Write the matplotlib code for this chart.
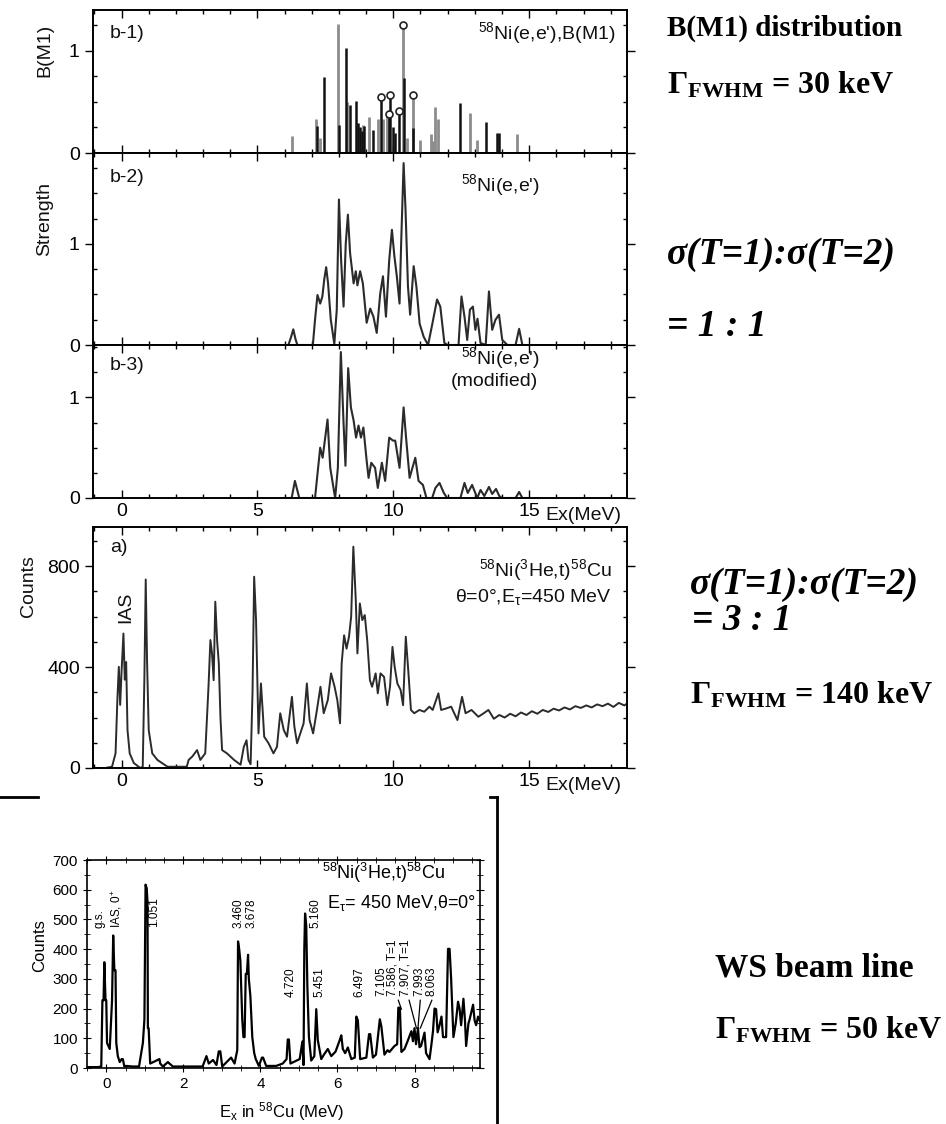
import matplotlib
matplotlib.use("Agg")
import matplotlib.pyplot as plt
from matplotlib.lines import Line2D
from matplotlib.ticker import MultipleLocator, FixedLocator

plt.rcParams['font.family'] = ['Liberation Sans', 'DejaVu Sans']
plt.rcParams['mathtext.default'] = 'regular'

W, H = 946, 1124

# ---- b-1) B(M1) sticks (Ex in MeV, B(M1)) ----
b1_black_x = [7.20, 7.45, 8.02, 8.25, 8.40, 8.62, 8.70, 8.78, 8.85, 8.93, 9.25, 9.54, 9.86,
              9.89, 10.00, 10.08, 10.20, 10.38, 10.72, 12.47, 13.42, 13.80, 13.90]
b1_black_y = [0.26, 0.74, 0.27, 1.03, 0.47, 0.51, 0.29, 0.25, 0.22, 0.26, 0.23, 0.55, 0.38,
              0.57, 0.25, 0.20, 0.41, 0.73, 0.24, 0.49, 0.30, 0.20, 0.20]
b1_gray_x = [6.28, 7.16, 7.30, 7.95, 8.31, 8.88, 9.09, 9.42, 9.62, 9.77, 10.34, 10.50, 10.71,
             11.00, 11.37, 11.45, 11.55, 11.65, 12.83, 13.09, 14.56]
b1_gray_y = [0.17, 0.33, 0.15, 1.26, 0.50, 0.27, 0.35, 0.33, 0.33, 0.40, 1.25, 0.15, 0.57,
             0.13, 0.19, 0.12, 0.45, 0.33, 0.39, 0.13, 0.19]
b1_circle_x = [9.54, 9.86, 9.89, 10.20, 10.34, 10.71]
b1_circle_y = [0.55, 0.38, 0.57, 0.41, 1.25, 0.57]

# ---- b-2) folded strength ----
b2_x = [6.0, 6.14, 6.24, 6.32, 6.40, 6.47, 7.04, 7.12, 7.21, 7.31, 7.39, 7.46, 7.53, 7.60, 7.70,
        7.83, 7.92, 8.00, 8.08, 8.17, 8.25, 8.33, 8.41, 8.54, 8.62, 8.68, 8.78, 8.88, 9.02, 9.15,
        9.27, 9.39, 9.52, 9.62, 9.73, 9.85, 9.95, 10.04, 10.13, 10.23, 10.29, 10.38, 10.45, 10.54,
        10.62, 10.75, 10.85, 10.97, 11.12, 11.28, 11.43, 11.61, 11.73, 11.88, 12.0, 12.40, 12.51,
        12.62, 12.72, 12.82, 12.93, 13.02, 13.10, 13.21, 13.40, 13.52, 13.64, 13.76, 13.89, 14.01,
        14.2, 14.5, 14.63, 14.75, 15.0]
b2_y = [0, 0, 0.08, 0.155, 0.06, 0, 0, 0.25, 0.495, 0.41, 0.48, 0.65, 0.77, 0.61, 0.25,
        0.01, 0.35, 1.44, 0.84, 0.38, 1.0, 1.29, 0.91, 0.61, 0.73, 0.59, 0.73, 0.61, 0.22, 0.36,
        0.28, 0.12, 0.51, 0.68, 0.28, 0.84, 1.14, 0.88, 0.68, 0.41, 1.01, 1.80, 1.34, 0.58,
        0.30, 0.78, 0.58, 0.21, 0.08, 0, 0.2, 0.45, 0.38, 0.02, 0, 0, 0.48,
        0.28, 0.05, 0.35, 0.38, 0.15, 0.26, 0.02, 0, 0.53, 0.15, 0.25, 0.30, 0.05,
        0, 0, 0.16, 0, 0]

# ---- b-3) modified strength ----
b3_x = [6.0, 6.26, 6.38, 6.54, 7.12, 7.31, 7.40, 7.58, 7.68, 7.86, 7.96, 8.07, 8.17, 8.24, 8.34,
        8.44, 8.54, 8.63, 8.72, 8.81, 8.90, 9.02, 9.09, 9.19, 9.33, 9.43, 9.58, 9.70, 9.85, 9.99,
        10.07, 10.23, 10.38, 10.47, 10.60, 10.81, 10.93, 11.09, 11.22, 11.43, 11.55, 11.70, 11.86,
        11.98, 12.47, 12.62, 12.74, 12.90, 13.09, 13.21, 13.35, 13.52, 13.64, 13.78, 13.90, 14.0,
        14.5, 14.63, 14.75, 15.0]
b3_y = [0, 0, 0.17, 0, 0, 0.50, 0.40, 0.78, 0.30, 0, 0.30, 1.45, 0.74, 0.32, 1.29,
        0.90, 0.77, 0.60, 0.72, 0.60, 0.70, 0.37, 0.20, 0.35, 0.30, 0.10, 0.35, 0.17, 0.60, 0.57,
        0.57, 0.30, 0.90, 0.60, 0.20, 0.40, 0.17, 0.13, 0, 0, 0.10, 0.15, 0.05,
        0, 0, 0.15, 0.05, 0.13, 0, 0.08, 0.02, 0.11, 0.04, 0.09, 0.02, 0,
        0, 0.06, 0, 0]

# ---- a) 58Ni(3He,t) counts, 140 keV resolution ----
a_x = [-1.05, -0.6, -0.35, -0.22, -0.15, -0.10, -0.05, 0.0, 0.07, 0.12, 0.17, 0.22, 0.30, 0.45,
       0.69, 0.78, 0.84, 0.89, 0.94, 1.0, 1.13, 1.32, 1.69, 2.4, 2.47, 2.6, 2.78, 2.9, 3.08, 3.2,
       3.27, 3.33, 3.39, 3.45, 3.52, 3.58, 3.64, 3.7, 3.88, 4.14, 4.38, 4.5, 4.6, 4.67, 4.75,
       4.82, 4.88, 4.95, 5.04, 5.13, 5.2, 5.25, 5.41, 5.59, 5.72, 5.84, 5.97, 6.09, 6.27, 6.36,
       6.46, 6.58, 6.7, 6.82, 6.92, 7.05, 7.19, 7.32, 7.44, 7.59, 7.71, 7.84, 7.94, 8.04, 8.1,
       8.19, 8.28, 8.37, 8.45, 8.53, 8.62, 8.68, 8.77, 8.86, 8.95, 9.04, 9.14, 9.22, 9.35, 9.43,
       9.53, 9.66, 9.78, 9.88, 9.97, 10.05, 10.15, 10.27, 10.36, 10.46, 10.55, 10.65, 10.77,
       10.96, 11.14, 11.33, 11.45, 11.66, 11.76, 11.95, 12.13, 12.36, 12.53, 12.66, 12.88, 13.13,
       13.3, 13.5, 13.7, 13.9, 14.1, 14.3, 14.5, 14.7, 14.9, 15.1, 15.3, 15.5, 15.7, 15.9, 16.1,
       16.3, 16.5, 16.7, 16.9, 17.1, 17.3, 17.5, 17.7, 17.9, 18.1, 18.3, 18.5, 18.6]
a_y = [0, 0, 5, 58, 280, 401, 250, 380, 533, 350, 420, 150, 58, 20,
       0, 5, 350, 747, 420, 150, 58, 32, 5, 5, 32, 45, 71, 32, 58, 322,
       507, 454, 348, 659, 500, 414, 200, 71, 58, 32, 13, 84, 110, 32, 15,
       300, 758, 586, 137, 335, 217, 124, 98, 58, 84, 217, 150, 124, 282, 164,
       98, 137, 177, 335, 190, 137, 230, 322, 217, 269, 375, 322, 269, 177, 414,
       526, 473, 520, 600, 877, 665, 454, 652, 586, 606, 507, 348, 322, 375, 296,
       375, 361, 249, 322, 480, 401, 335, 309, 249, 520, 388, 230, 217,
       230, 223, 243, 230, 296, 230, 236, 243, 190, 282, 217, 230, 203,
       215, 230, 195, 210, 200, 215, 205, 220, 210, 225, 215, 230, 222, 235, 228,
       240, 232, 245, 238, 248, 240, 252, 245, 255, 242, 258, 248, 255]

# ---- WS beam line spectrum, 50 keV resolution ----
ws_x = [-0.50, -0.22, -0.13, -0.10, -0.07, -0.05, -0.02, 0.0, 0.02, 0.09, 0.15, 0.18, 0.21, 0.24,
        0.26, 0.30, 0.35, 0.40, 0.43, 0.47, 0.52, 0.69, 0.85, 0.95, 0.99, 1.02, 1.05, 1.07, 1.08,
        1.10, 1.14, 1.38, 1.40, 1.47, 1.60, 1.64, 1.73, 2.08, 2.5, 2.60, 2.66, 2.77, 2.86, 2.92,
        2.96, 3.01, 3.24, 3.33, 3.40, 3.42, 3.45, 3.48, 3.53, 3.56, 3.59, 3.62, 3.65, 3.68, 3.70,
        3.74, 3.79, 3.84, 3.88, 3.96, 4.04, 4.07, 4.15, 4.41, 4.58, 4.68, 4.71, 4.74, 4.78, 5.02,
        5.09, 5.12, 5.14, 5.16, 5.19, 5.22, 5.26, 5.32, 5.40, 5.45, 5.49, 5.58, 5.65, 5.75, 5.84,
        5.95, 6.06, 6.10, 6.14, 6.20, 6.27, 6.36, 6.45, 6.49, 6.53, 6.59, 6.75, 6.82, 6.85, 6.92,
        7.00, 7.10, 7.14, 7.22, 7.30, 7.35, 7.48, 7.55, 7.58, 7.62, 7.66, 7.74, 7.82, 7.92, 7.96,
        8.00, 8.04, 8.09, 8.13, 8.17, 8.26, 8.30, 8.39, 8.44, 8.48, 8.52, 8.56, 8.60, 8.65, 8.70,
        8.74, 8.82, 8.87, 8.91, 8.95, 9.01, 9.07, 9.13, 9.17, 9.21, 9.27, 9.31, 9.34, 9.40, 9.43,
        9.52, 9.56, 9.60, 9.65, 9.69]
ws_y = [3, 3, 5, 228, 228, 356, 228, 228, 84, 64, 228, 446, 329, 329,
        84, 40, 20, 30, 30, 5, 7, 5, 5, 84, 163, 617, 605, 559, 134,
        134, 15, 30, 15, 5, 20, 15, 5, 5, 5, 40, 15, 27, 10, 56,
        56, 5, 35, 15, 60, 426, 400, 361, 163, 104, 104, 317, 317, 381, 300,
        243, 104, 50, 30, 7, 35, 35, 7, 7, 15, 30, 96, 96, 15, 30,
        89, 10, 400, 520, 480, 272, 104, 25, 40, 198, 94, 30, 45, 64, 40,
        55, 94, 110, 64, 50, 69, 30, 35, 173, 160, 30, 35, 114, 114, 35,
        45, 164, 140, 45, 60, 54, 74, 80, 203, 203, 54, 64, 90, 124, 90,
        134, 80, 134, 70, 74, 119, 50, 30, 80, 124, 200, 198, 120, 144, 173,
        104, 104, 401, 401, 302, 104, 150, 223, 200, 144, 233, 160, 74, 150, 163,
        213, 160, 144, 173, 160]

# peak labels: text, x position, bottom of label (counts)
ws_labels = ['g.s.', 'IAS, 0$^{+}$', '1.051', '3.460', '3.678', '4.720', '5.160', '5.451',
             '6.497', '7.105', '7.586, T=1', '7.907, T=1', '7.993', '8.063']
ws_label_x = [-0.17, 0.28, 1.25, 3.44, 3.78, 4.78, 5.43, 5.54, 6.57, 7.14, 7.44, 7.76, 8.13, 8.45]
ws_label_y = [470, 470, 475, 470, 470, 238, 470, 238, 238, 243, 243, 243, 243, 243]
# leader lines: label end -> peak
lead_from = [(7.58, 228), (7.86, 228), (8.15, 228), (8.45, 228)]
lead_to = [(7.66, 198), (8.05, 134), (8.09, 134), (8.15, 134)]


def box(x0, y0, x1, y1):
    return [x0 / W, 1 - y1 / H, (x1 - x0) / W, (y1 - y0) / H]


def fx(px):
    return px / W


def fy(py):
    return 1 - py / H


fig = plt.figure(figsize=(W / 100, H / 100), dpi=100)

LINE = '#2b2b2b'
top_axes = []
for rect, ymax in [((93, 10, 627, 153), 1.40), ((93, 153, 627, 345), 1.90),
                   ((93, 345, 627, 498), 1.52), ((93, 527, 627, 768), 955)]:
    ax = fig.add_axes(box(*rect))
    ax.set_xlim(-1.05, 18.6)
    ax.set_ylim(0, ymax)
    for s in ax.spines.values():
        s.set_linewidth(1.4)
    ax.xaxis.set_major_locator(FixedLocator([0, 5, 10, 15]))
    ax.xaxis.set_minor_locator(MultipleLocator(1))
    ax.tick_params(axis='both', which='both', direction='in', top=True, right=True,
                   labelsize=14, width=1.0)
    ax.tick_params(axis='both', which='major', length=6)
    ax.tick_params(axis='both', which='minor', length=3)
    ax.tick_params(axis='y', which='major', direction='out', left=True)
    top_axes.append(ax)

ax1, ax2, ax3, ax4 = top_axes
for ax in (ax1, ax2, ax3):
    ax.yaxis.set_major_locator(FixedLocator([0, 1]))
    ax.yaxis.set_minor_locator(MultipleLocator(0.25))
ax4.yaxis.set_major_locator(FixedLocator([0, 400, 800]))
ax4.yaxis.set_minor_locator(MultipleLocator(100))
ax1.tick_params(labelbottom=False)
ax2.tick_params(labelbottom=False)
ax3.set_xticklabels(['0', '5', '10', '15'])
ax4.set_xticklabels(['0', '5', '10', '15'])

ax1.vlines(b1_gray_x, 0, b1_gray_y, color='#8c8c8c', lw=2.0)
ax1.vlines(b1_black_x, 0, b1_black_y, color='#111111', lw=1.8)
ax1.plot(b1_circle_x, b1_circle_y, 'o', mfc='white', mec='#222222', ms=5, mew=1.2)

ax2.plot(b2_x, b2_y, color=LINE, lw=1.5)
ax3.plot(b3_x, b3_y, color=LINE, lw=1.5)
ax4.plot(a_x, a_y, color=LINE, lw=1.4)

TXT = dict(fontsize=14, color='#111111', va='center')
fig.text(fx(110), fy(33), 'b-1)', **TXT)
fig.text(fx(615), fy(33), "$^{58}$Ni(e,e'),B(M1)", ha='right', **TXT)
fig.text(fx(110), fy(178), 'b-2)', **TXT)
fig.text(fx(540), fy(185), "$^{58}$Ni(e,e')", ha='right', **TXT)
fig.text(fx(110), fy(366), 'b-3)', **TXT)
fig.text(fx(540), fy(358), "$^{58}$Ni(e,e')", ha='right', **TXT)
fig.text(fx(538), fy(382), '(modified)', ha='right', **TXT)
fig.text(fx(110), fy(547), 'a)', **TXT)
fig.text(fx(612), fy(570), '$^{58}$Ni($^{3}$He,t)$^{58}$Cu', ha='right', **TXT)
fig.text(fx(612), fy(597), 'θ=0°,E$_{τ}$=450 MeV', ha='right', **TXT)
fig.text(fx(126), fy(607), 'IAS', rotation=90, ha='center', **TXT)
fig.text(fx(583), fy(516), 'Ex(MeV)', ha='center', **TXT)
fig.text(fx(583), fy(785), 'Ex(MeV)', ha='center', **TXT)
fig.text(fx(45), fy(50), 'B(M1)', rotation=90, ha='center', **TXT)
fig.text(fx(45), fy(219), 'Strength', rotation=90, ha='center', **TXT)
fig.text(fx(28), fy(586), 'Counts', rotation=90, ha='center', **TXT)

# ---- bottom panel ----
ax5 = fig.add_axes(box(87, 860, 480, 1068))
ax5.set_xlim(-0.5, 9.7)
ax5.set_ylim(0, 700)
for s in ax5.spines.values():
    s.set_linewidth(1.2)
ax5.xaxis.set_major_locator(FixedLocator([0, 2, 4, 6, 8]))
ax5.xaxis.set_minor_locator(MultipleLocator(0.5))
ax5.yaxis.set_major_locator(MultipleLocator(100))
ax5.yaxis.set_minor_locator(MultipleLocator(50))
ax5.tick_params(axis='both', which='both', direction='inout', top=True, right=True, labelsize=11)
ax5.tick_params(axis='both', which='major', length=6)
ax5.tick_params(axis='both', which='minor', length=4)
ax5.plot(ws_x, ws_y, color='black', lw=1.6)

for t, x, y in zip(ws_labels, ws_label_x, ws_label_y):
    ax5.text(x, y, t, rotation=90, ha='center', va='bottom', fontsize=8.5)
for (x0, y0), (x1, y1) in zip(lead_from, lead_to):
    ax5.plot([x0, x1], [y0, y1], color='black', lw=0.9)

fig.text(fx(445), fy(873), '$^{58}$Ni($^{3}$He,t)$^{58}$Cu', ha='right', va='center', fontsize=13)
fig.text(fx(476), fy(903), 'E$_{τ}$= 450 MeV,θ=0°', ha='right', va='center', fontsize=13)
fig.text(fx(40), fy(946), 'Counts', rotation=90, ha='center', va='center', fontsize=12)
fig.text(fx(282), fy(1112), 'E$_{x}$ in $^{58}$Cu (MeV)', ha='center', va='center', fontsize=12)

# bracket lines around the bottom panel
fig.add_artist(Line2D([0, fx(38)], [fy(797), fy(797)], color='black', lw=2))
fig.add_artist(Line2D([fx(490), fx(497)], [fy(797), fy(797)], color='black', lw=2))
fig.add_artist(Line2D([fx(497), fx(497)], [fy(797), 0], color='black', lw=2))

# ---- right-hand annotations ----
SERIF = dict(family='Liberation Serif', weight='bold', va='center', ha='left')
fig.text(fx(667), fy(28), 'B(M1) distribution', fontsize=21, **SERIF)
fig.text(fx(667), fy(85), 'Γ$_{FWHM}$ = 30 keV', fontsize=23, **SERIF)
fig.text(fx(667), fy(255), 'σ(T=1):σ(T=2)', fontsize=27, style='italic', **SERIF)
fig.text(fx(667), fy(327), '= 1 : 1', fontsize=27, style='italic', **SERIF)
fig.text(fx(690), fy(585), 'σ(T=1):σ(T=2)', fontsize=27, style='italic', **SERIF)
fig.text(fx(692), fy(620), '= 3 : 1', fontsize=27, style='italic', **SERIF)
fig.text(fx(690), fy(695), 'Γ$_{FWHM}$ = 140 keV', fontsize=23, **SERIF)
fig.text(fx(715), fy(968), 'WS beam line', fontsize=24, **SERIF)
fig.text(fx(715), fy(1030), 'Γ$_{FWHM}$ = 50 keV', fontsize=23, **SERIF)

fig.savefig('out.png', dpi=100)
